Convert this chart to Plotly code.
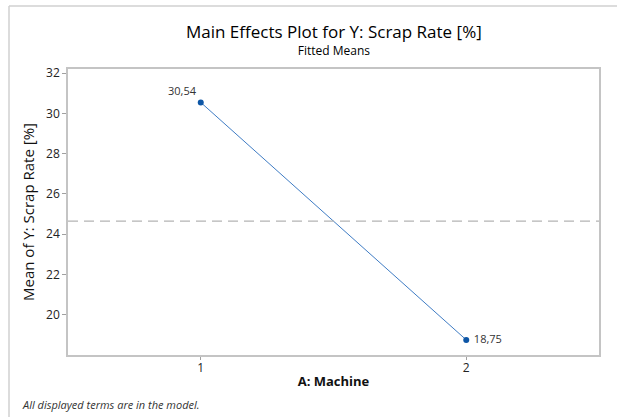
import plotly.graph_objects as go

machine = [1, 2]
fitted_means = [30.54, 18.75]
overall_mean = sum(fitted_means) / len(fitted_means)
y_ticks = [20, 22, 24, 26, 28, 30, 32]
x_ticks = [1, 2]

W, H = 617, 417
L, R, T, B = 68, 18, 69, 62
pw, ph = W - L - R, H - T - B

def px(x):
    return (x - L) / pw

def py(y):
    return (H - B - y) / ph

FONT = "Open Sans"
fig = go.Figure()
fig.add_trace(go.Scatter(
    x=machine, y=fitted_means, mode="lines+markers+text",
    line=dict(color="#3f7cc4", width=1),
    marker=dict(color="#0d56a6", size=6),
    texttemplate=["%{y:.2f}", "\u00a0%{y:.2f}"],
    textposition=["top left", "middle right"],
    textfont=dict(family=FONT, size=11, color="#333333"),
    cliponaxis=False, showlegend=False, hoverinfo="skip"))

fig.add_shape(type="line", xref="paper", yref="y", x0=0, x1=1,
              y0=overall_mean, y1=overall_mean,
              line=dict(color="#b4b4b4", width=1.2, dash="10px,6px"))
# outer frame
fig.add_shape(type="line", xref="paper", yref="paper", x0=px(9), x1=px(617),
              y0=py(6), y1=py(6), line=dict(color="#d0d0d0", width=1.5))
fig.add_shape(type="line", xref="paper", yref="paper", x0=px(9), x1=px(9),
              y0=py(6), y1=py(417), line=dict(color="#d0d0d0", width=1.5))

fig.add_annotation(x=0.5, y=py(18), xref="paper", yref="paper", showarrow=False,
                   text="<span style='font-size:17px'>Main Effects Plot for Y: Scrap Rate [%]</span>"
                        "<br><span style='font-size:12px'>Fitted Means</span>",
                   font=dict(family=FONT, size=13, color="#000000"), yanchor="top")
fig.add_annotation(x=px(20), y=py(404), xref="paper", yref="paper", showarrow=False,
                   text="<i>All displayed terms are in the model.</i>",
                   font=dict(family=FONT, size=11, color="#333333"),
                   xanchor="left", yanchor="middle")

fig.update_layout(
    width=W, height=H, margin=dict(l=L, r=R, t=T, b=B, pad=0),
    paper_bgcolor="white", plot_bgcolor="white", separators=",.",
    font=dict(family=FONT, size=11, color="#333333"),
    xaxis=dict(range=[0.5, 2.5], tickvals=x_ticks, ticks="outside", ticklen=3,
               tickcolor="#a0a0a0", showgrid=False, zeroline=False,
               showline=True, mirror=True, linecolor="#c4c4c4", linewidth=1.5,
               ticklabelstandoff=-2,
               tickfont=dict(size=12, color="#222222"),
               title=dict(text="<b>A: Machine</b>", standoff=2,
                          font=dict(size=13, color="#111111"))),
    yaxis=dict(range=[18.0, 32.2], tickvals=y_ticks, ticks="outside", ticklen=4,
               tickcolor="#a0a0a0", showgrid=False, zeroline=False,
               showline=True, mirror=True, linecolor="#c4c4c4", linewidth=1.5,
               tickfont=dict(size=12, color="#222222"),
               title=dict(text="Mean of Y: Scrap Rate [%]", standoff=8,
                          font=dict(size=15, color="#111111"))),
)
fig.write_html("out.html", config={"displayModeBar": False},
               post_script="document.body.style.margin='0';document.body.style.overflow='hidden';")
